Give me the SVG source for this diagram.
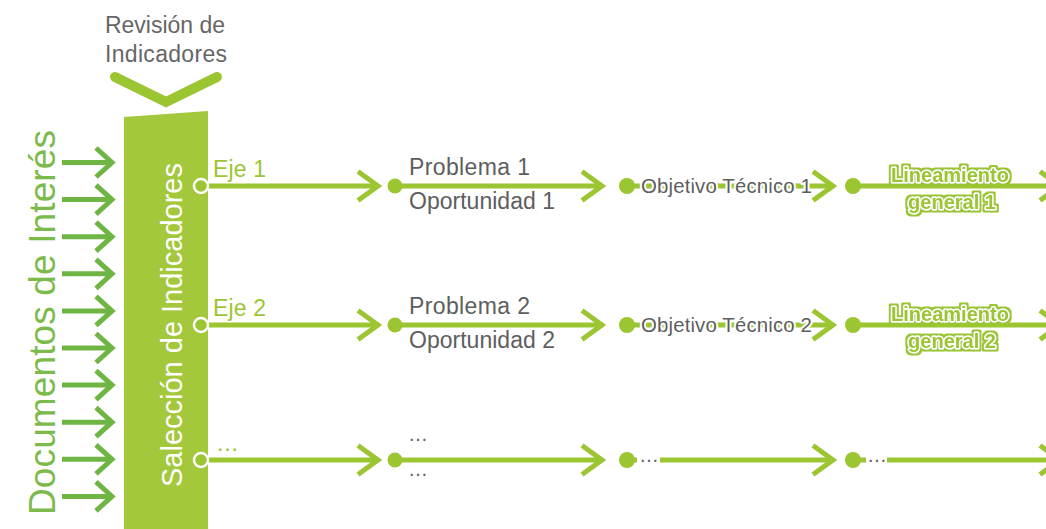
<svg xmlns="http://www.w3.org/2000/svg" width="1046" height="529" viewBox="0 0 1046 529">
<style>
.ln{stroke:#9bc531;stroke-width:5;fill:none}
.hd{stroke:#9bc531;stroke-width:5;fill:none;stroke-linejoin:miter}
.la{stroke:#6fb544;stroke-width:5;fill:none}
.dot{fill:#9bc531}
.odot{fill:#9bc531;stroke:#fff;stroke-width:2.5}
.g{font-family:"Liberation Sans",Arial,sans-serif;font-size:23px;fill:#5e5e5e}
.ot{font-family:"Liberation Sans",Arial,sans-serif;font-size:20.5px;fill:#5e5e5e;stroke:#fff;stroke-width:4;paint-order:stroke;stroke-linejoin:round}
.eje{font-family:"Liberation Sans",Arial,sans-serif;font-size:23px;fill:#9bc531}
.lg{font-family:"Liberation Sans",Arial,sans-serif;font-size:20px;font-weight:bold;fill:#9bc531;stroke:#fff;stroke-width:3;paint-order:stroke;stroke-linejoin:round;text-anchor:middle;filter:url(#outline)}
.gd{font-family:"Liberation Sans",Arial,sans-serif;font-size:20px;fill:#5e5e5e}
</style>
<defs>
<filter id="outline" x="-10%" y="-30%" width="120%" height="160%">
<feMorphology in="SourceAlpha" operator="dilate" radius="1.6" result="d"/>
<feFlood flood-color="#9bc531"/>
<feComposite in2="d" operator="in" result="o"/>
<feMerge><feMergeNode in="o"/><feMergeNode in="SourceGraphic"/></feMerge>
</filter>
</defs>

<g id="revision">
<text x="165" y="33" font-family="Liberation Sans, Arial, sans-serif" font-size="23" fill="#666" text-anchor="middle" textLength="120">Revisión de</text>
<text x="166" y="62" font-family="Liberation Sans, Arial, sans-serif" font-size="23" fill="#666" text-anchor="middle" textLength="122">Indicadores</text>
<polyline points="115,77 166,102 217,77" fill="none" stroke="#9bc531" stroke-width="10" stroke-linecap="round" stroke-linejoin="miter"/>
</g>

<g id="documentos">
<text transform="translate(55,515) rotate(-90)" font-family="Liberation Sans, Arial, sans-serif" font-size="37" fill="#7cbb4b" textLength="385">Documentos de Interés</text>
</g>

<g id="input-arrows">
<g class="la">
<path d="M62,162.5H111M96,148L112,162.5L96,177"/>
<path d="M62,199.6H111M96,185.1L112,199.6L96,214.1"/>
<path d="M62,236.7H111M96,222.2L112,236.7L96,251.2"/>
<path d="M62,273.8H111M96,259.3L112,273.8L96,288.3"/>
<path d="M62,310.9H111M96,296.4L112,310.9L96,325.4"/>
<path d="M62,348H111M96,333.5L112,348L96,362.5"/>
<path d="M62,385.1H111M96,370.6L112,385.1L96,399.6"/>
<path d="M62,422.2H111M96,407.7L112,422.2L96,436.7"/>
<path d="M62,459.3H111M96,444.8L112,459.3L96,473.8"/>
<path d="M62,496.4H111M96,481.9L112,496.4L96,510.9"/>
</g>
</g>

<g id="seleccion">
<polygon points="124,117 208,111 208,529 124,529" fill="#a4c83c"/>
<text transform="translate(182,487) rotate(-90)" font-family="Liberation Sans, Arial, sans-serif" font-size="29" fill="#fff" textLength="324">Salección de Indicadores</text>
</g>

<g id="connectors">
<path class="ln" d="M201,186H377"/><path class="hd" d="M358,171.5L378,186L358,200.5"/>
<path class="ln" d="M395,186H601"/><path class="hd" d="M582,171.5L602,186L582,200.5"/>
<path class="ln" d="M627,186H832"/><path class="hd" d="M813,171.5L833,186L813,200.5"/>
<path class="ln" d="M853,186H1046"/><path class="hd" d="M1040,171.5L1060,186L1040,200.5"/>
<path class="ln" d="M201,325H377"/><path class="hd" d="M358,310.5L378,325L358,339.5"/>
<path class="ln" d="M395,325H601"/><path class="hd" d="M582,310.5L602,325L582,339.5"/>
<path class="ln" d="M627,325H832"/><path class="hd" d="M813,310.5L833,325L813,339.5"/>
<path class="ln" d="M853,325H1046"/><path class="hd" d="M1040,310.5L1060,325L1040,339.5"/>
<path class="ln" d="M201,460H377"/><path class="hd" d="M358,445.5L378,460L358,474.5"/>
<path class="ln" d="M395,460H601"/><path class="hd" d="M582,445.5L602,460L582,474.5"/>
<path class="ln" d="M627,460H637M660,460H832"/><path class="hd" d="M813,445.5L833,460L813,474.5"/>
<path class="ln" d="M853,460H866M887,460H1046"/><path class="hd" d="M1040,445.5L1060,460L1040,474.5"/>
</g>

<g id="row1">
<circle class="odot" cx="201" cy="186" r="7"/>
<text class="eje" x="213" y="177" textLength="53">Eje 1</text>
<circle class="dot" cx="395" cy="186" r="7.5"/>
<text class="g" x="409" y="175" textLength="121">Problema 1</text>
<text class="g" x="409" y="209" textLength="146">Oportunidad 1</text>
<circle class="dot" cx="627" cy="186" r="8"/>
<text class="ot" x="641" y="193" textLength="171">Objetivo Técnico 1</text>
<circle class="dot" cx="853" cy="186" r="8"/>
<text class="lg" x="950" y="182">Lineamiento</text>
<text class="lg" x="952" y="209">general 1</text>
</g>

<g id="row2">
<circle class="odot" cx="201" cy="325" r="7"/>
<text class="eje" x="213" y="316" textLength="53">Eje 2</text>
<circle class="dot" cx="395" cy="325" r="7.5"/>
<text class="g" x="409" y="314" textLength="121">Problema 2</text>
<text class="g" x="409" y="348" textLength="146">Oportunidad 2</text>
<circle class="dot" cx="627" cy="325" r="8"/>
<text class="ot" x="641" y="332" textLength="171">Objetivo Técnico 2</text>
<circle class="dot" cx="853" cy="325" r="8"/>
<text class="lg" x="950" y="321">Lineamiento</text>
<text class="lg" x="952" y="348">general 2</text>
</g>

<g id="row3">
<circle class="odot" cx="201" cy="460" r="7"/>
<text class="eje" x="216" y="451">…</text>
<circle class="dot" cx="395" cy="460" r="7.5"/>
<text class="gd" x="408" y="441">…</text>
<text class="gd" x="408" y="476">…</text>
<circle class="dot" cx="627" cy="460" r="8"/>
<text class="gd" x="639" y="462">…</text>
<circle class="dot" cx="853" cy="460" r="8"/>
<text class="gd" x="867" y="462">…</text>
</g>
</svg>
